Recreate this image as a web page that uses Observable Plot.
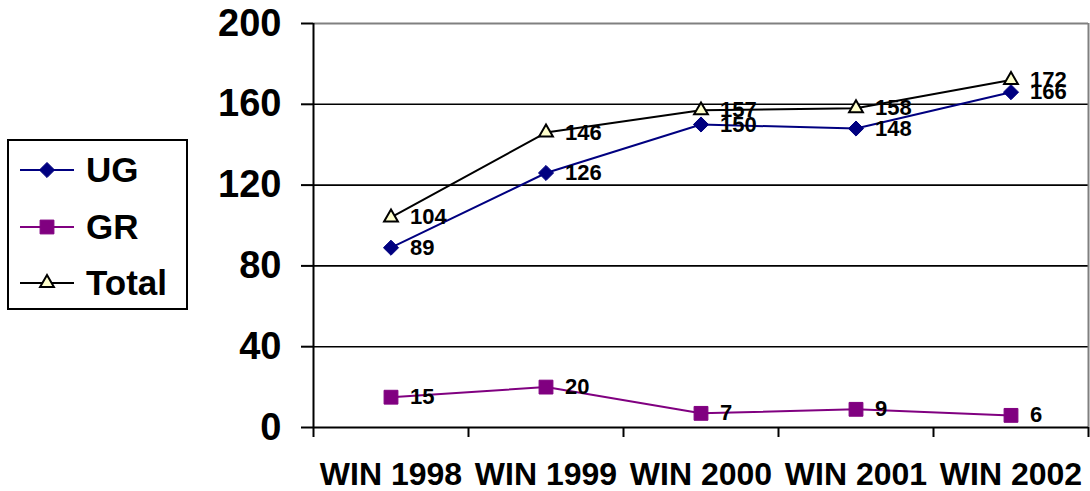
<!DOCTYPE html>
<html>
<head>
<meta charset="utf-8">
<script src="https://cdn.jsdelivr.net/npm/d3@7"></script>
<script src="https://cdn.jsdelivr.net/npm/@observablehq/plot@0.6"></script>
<style>
  html, body { margin: 0; padding: 0; background: #fff; }
  #wrap { position: relative; width: 1090px; height: 491px; font-family: "Liberation Sans", Arial, sans-serif; font-weight: bold; }
  #chart { position: absolute; left: 0; top: 0; }
  #legend { position: absolute; left: 7px; top: 139px; width: 177px; height: 167px; border: 2px solid #000; background: #fff; }
  .row { position: absolute; left: 0; height: 40px; display: flex; align-items: center; }
  .row svg { display: block; }
  .row span { font-size: 35px; font-weight: bold; color: #000; margin-left: 11px; line-height: 40px; }
</style>
</head>
<body>
<div id="wrap">
  <div id="chart"></div>
  <div id="legend"></div>
</div>
<script>
const categories = ["WIN 1998", "WIN 1999", "WIN 2000", "WIN 2001", "WIN 2002"];
const seriesNames = ["UG", "GR", "Total"];
const ugValues = [89, 126, 150, 148, 166];
const grValues = [15, 20, 7, 9, 6];
const totalValues = [104, 146, 157, 158, 172];
const yTicks = [0, 40, 80, 120, 160, 200];
const gridValues = [40, 80, 120, 160];

const styles = {
  UG:    {values: ugValues,    stroke: "#000080", fill: "#000080", symbol: "diamond2", r: 6.8, markStroke: "#000080"},
  GR:    {values: grValues,    stroke: "#800080", fill: "#800080", symbol: "square",   r: 7.8, markStroke: "#800080"},
  Total: {values: totalValues, stroke: "#000000", fill: "#FFFFCC", symbol: "triangle2", r: 6.6, markStroke: "#000000"}
};

const rows = seriesNames.flatMap(name =>
  styles[name].values.map((v, i) => ({series: name, idx: i + 0.5, cat: categories[i], value: v}))
);

const font = "'Liberation Sans', Arial, sans-serif";

const marks = [
  Plot.ruleY(gridValues, {stroke: "#000", strokeWidth: 1.6}),
  Plot.ruleY([200], {stroke: "#808080", strokeWidth: 2}),
  Plot.ruleX([categories.length], {y1: 0, y2: 200, stroke: "#808080", strokeWidth: 2}),
  Plot.ruleX([0], {y1: 0, y2: 200, stroke: "#000", strokeWidth: 2}),
  Plot.ruleY([0], {x1: 0, x2: categories.length, stroke: "#000", strokeWidth: 2}),
  Plot.axisY({ticks: yTicks, tickSize: 12, tickPadding: 20, tickFormat: d => String(d), fontSize: 38, fontWeight: "bold", stroke: "#000", strokeWidth: 2, label: null}),
  Plot.axisX({ticks: d3.range(0, categories.length + 1), tickSize: 10, tickFormat: () => "", strokeWidth: 2, label: null}),
  Plot.axisX({ticks: categories.map((c, i) => i + 0.5), tickSize: 0, tickPadding: 35, tickFormat: d => categories[Math.floor(d)], fontSize: 32, fontWeight: "bold", label: null})
];

for (const name of seriesNames) {
  const s = styles[name];
  const data = rows.filter(d => d.series === name);
  marks.push(Plot.line(data, {x: "idx", y: "value", stroke: s.stroke, strokeWidth: 2}));
}
for (const name of seriesNames) {
  const s = styles[name];
  const data = rows.filter(d => d.series === name);
  marks.push(Plot.dot(data, {x: "idx", y: "value", symbol: () => s.symbol, r: s.r, fill: s.fill, stroke: s.markStroke, strokeWidth: name === "Total" ? 2 : 1}));
}
marks.push(Plot.text(rows, {x: "idx", y: "value", text: d => String(d.value), dx: 19, textAnchor: "start", fontSize: 22, fontWeight: "bold", fill: "#000"}));

const chart = Plot.plot({
  width: 1090,
  height: 491,
  marginLeft: 313,
  marginRight: 2,
  marginTop: 23,
  marginBottom: 64,
  style: {fontFamily: font, fontWeight: "bold", background: "transparent", color: "#000"},
  x: {type: "linear", domain: [0, categories.length], axis: null},
  y: {domain: [0, 200], axis: null},
  symbol: {type: "identity"},
  marks
});
document.getElementById("chart").appendChild(chart);

// Legend
const legend = d3.select("#legend");
const rowTops = [9, 66, 122];
seriesNames.forEach((name, k) => {
  const s = styles[name];
  const row = legend.append("div").attr("class", "row").style("top", rowTops[k] + "px").style("left", "10px");
  const svg = row.append("svg").attr("width", 56).attr("height", 40);
  svg.append("line").attr("x1", 1).attr("x2", 55).attr("y1", 20).attr("y2", 20).attr("stroke", s.stroke).attr("stroke-width", 2);
  const symMap = {diamond2: d3.symbolDiamond2, square: d3.symbolSquare, triangle2: d3.symbolTriangle2};
  svg.append("path")
    .attr("transform", "translate(28,20)")
    .attr("d", d3.symbol(symMap[s.symbol], Math.PI * s.r * s.r)())
    .attr("fill", s.fill)
    .attr("stroke", s.markStroke)
    .attr("stroke-width", name === "Total" ? 2 : 1);
  row.append("span").text(name);
});
</script>
</body>
</html>
